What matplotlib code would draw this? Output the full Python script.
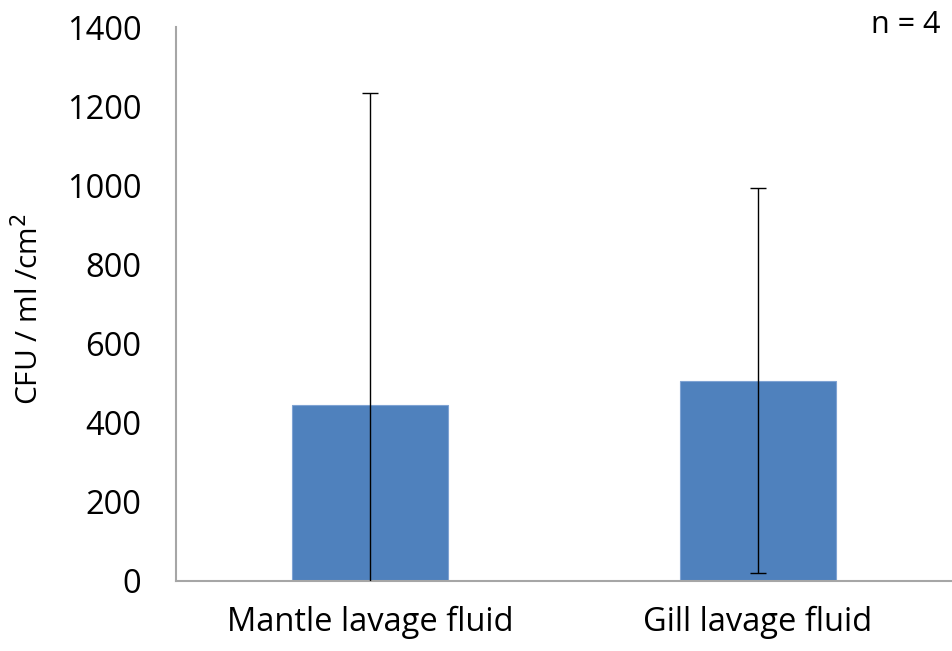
import matplotlib
matplotlib.use("Agg")
import matplotlib.pyplot as plt

categories = ["Mantle lavage fluid", "Gill lavage fluid"]
means = [444, 506]
errors = [789, 486]
y_ticks = [0, 200, 400, 600, 800, 1000, 1200, 1400]

plt.rcParams["font.family"] = ["Open Sans", "DejaVu Sans"]

fig = plt.figure(figsize=(9.52, 6.51), dpi=100)
ax = fig.add_axes([0.1849, 0.108, 0.8151, 0.8505])

x = list(range(len(categories)))
ax.bar(x, means, width=0.4, color="#4F81BD", edgecolor="#7FA3D3", linewidth=0.8, zorder=2)
ax.errorbar(x, means, yerr=errors, fmt="none", ecolor="black", elinewidth=1.0,
            capsize=6, capthick=1.0, zorder=3)

ax.set_xlim(-0.5, 1.5)
ax.set_ylim(0, 1400)
ax.set_yticks(y_ticks)
ax.set_yticklabels([str(t) for t in y_ticks], fontsize=23.5)
ax.set_xticks(x)
ax.set_xticklabels(categories, fontsize=23.5)
ax.tick_params(axis="y", length=0, pad=25)
ax.tick_params(axis="x", length=0, pad=18)

for side in ["top", "right"]:
    ax.spines[side].set_visible(False)
for side in ["left", "bottom"]:
    ax.spines[side].set_color("#A6A6A6")
    ax.spines[side].set_linewidth(1.5)

ax.set_ylabel("CFU / ml /cm$^2$", fontsize=21.5)
ax.yaxis.set_label_coords(-0.168, 0.49)
fig.text(0.988, 0.962, "n = 4", fontsize=22, ha="right", va="center")

fig.savefig("out.png", dpi=100)
